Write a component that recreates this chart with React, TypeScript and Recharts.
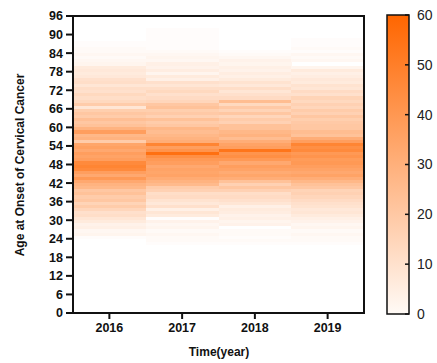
import React from "react";
import { BarChart, Bar, XAxis, YAxis, Cell } from "recharts";

const YEARS = ["2016", "2017", "2018", "2019"];
const AGE_START = 20;
const AGE_COUNT = 96;
const AGE_TICKS = [0, 6, 12, 18, 24, 30, 36, 42, 48, 54, 60, 66, 72, 78, 84, 90, 96];
const SCALE_TICKS = [0, 10, 20, 30, 40, 50, 60];

// cases per age, ages 20..92
const CASES_2016 = [
  0, 0, 0, 0, 1, 4, 3, 6, 5, 8,
  10, 13, 12, 16, 20, 17, 22, 20, 24, 22,
  28, 30, 34, 40, 34, 38, 46, 48, 46, 38,
  36, 38, 34, 37, 35, 20, 30, 28, 38, 30,
  24, 22, 25, 20, 22, 19, 10, 20, 15, 13,
  15, 12, 13, 10, 13, 12, 9, 8, 9, 8,
  4, 3, 2, 3, 2, 2, 1, 1, 0, 0,
  0, 0, 0,
];
const CASES_2017 = [
  0, 0, 1, 2, 2, 3, 2, 4, 3, 5,
  1, 8, 10, 6, 12, 9, 11, 14, 13, 18,
  20, 27, 30, 33, 36, 35, 36, 34, 38, 40,
  44, 56, 42, 38, 48, 32, 30, 28, 26, 28,
  22, 20, 24, 18, 21, 19, 24, 22, 16, 14,
  12, 15, 13, 10, 12, 6, 8, 4, 7, 5,
  6, 3, 4, 3, 2, 1, 1, 1, 1, 1,
  1, 1, 0,
];
const CASES_2018 = [
  0, 0, 1, 2, 1, 2, 2, 0, 5, 4,
  6, 5, 7, 8, 6, 10, 12, 14, 13, 18,
  22, 18, 24, 32, 35, 33, 36, 38, 34, 40,
  44, 42, 54, 38, 36, 32, 26, 30, 28, 24,
  24, 18, 20, 16, 22, 17, 21, 15, 26, 14,
  12, 10, 13, 9, 11, 8, 6, 7, 5, 6,
  4, 5, 3, 2, 1, 0, 0, 0, 0, 0,
  0, 0, 0,
];
const CASES_2019 = [
  0, 0, 1, 2, 2, 3, 2, 4, 3, 5,
  6, 8, 10, 9, 11, 12, 14, 16, 18, 17,
  22, 24, 28, 32, 36, 34, 36, 38, 40, 39,
  42, 40, 46, 44, 48, 38, 32, 24, 26, 22,
  22, 21, 19, 22, 18, 20, 16, 18, 15, 17,
  12, 14, 10, 11, 8, 9, 7, 6, 8, 4,
  0, 3, 2, 3, 1, 2, 1, 1, 1, 0,
  0, 0, 0,
];
const SERIES = [CASES_2016, CASES_2017, CASES_2018, CASES_2019];

const MAX_VALUE = 60;
const HOT = [255, 102, 0];

const colorFor = (v: number) => {
  const t = Math.max(0, Math.min(1, v / MAX_VALUE));
  const c = HOT.map((h) => Math.round(255 + (h - 255) * t));
  return `rgb(${c[0]},${c[1]},${c[2]})`;
};

const valueAt = (yearIdx: number, age: number) =>
  SERIES[yearIdx][age - AGE_START] ?? 0;

const ages = Array.from({ length: AGE_COUNT }, (_, i) => i);

const heatData = YEARS.map((year) => {
  const row: Record<string, string | number> = { year };
  ages.forEach((a) => (row["a" + a] = 1));
  return row;
});

const FONT = "Arial, 'Liberation Sans', sans-serif";
const boldTick = { fontSize: 12.5, fontWeight: 700, fill: "#111", fontFamily: FONT };
const ink = { stroke: "#111", strokeWidth: 2 };

export default function App() {
  return (
    <div
      style={{
        position: "absolute",
        left: 0,
        top: 0,
        width: 437,
        height: 363,
        background: "#fff",
        fontFamily: FONT,
      }}
    >
      <div style={{ position: "absolute", left: 0, top: 0 }}>
        <BarChart
          width={437}
          height={363}
          data={heatData}
          barCategoryGap={0}
          margin={{ top: 16, right: 73, bottom: 20, left: 0 }}
        >
          {ages.map((a) => (
            <Bar key={a} dataKey={"a" + a} stackId="s" isAnimationActive={false}>
              {YEARS.map((y, i) => {
                const v = valueAt(i, a);
                return (
                  <Cell
                    key={y}
                    fill={v > 0 ? colorFor(v) : "none"}
                    shapeRendering="crispEdges"
                  />
                );
              })}
            </Bar>
          ))}
          <XAxis
            dataKey="year"
            height={30}
            tick={boldTick}
            tickSize={6}
            tickMargin={4}
            axisLine={ink}
            tickLine={ink}
          />
          <YAxis
            type="number"
            domain={[0, 96]}
            ticks={AGE_TICKS}
            interval={0}
            width={73}
            tick={boldTick}
            tickSize={7}
            tickMargin={3}
            axisLine={ink}
            tickLine={ink}
          />
        </BarChart>
      </div>

      {/* plot frame */}
      <div
        style={{
          position: "absolute",
          left: 72,
          top: 15,
          width: 289,
          height: 295,
          border: "2px solid #111",
          pointerEvents: "none",
        }}
      />

      <div style={{ position: "absolute", left: 380, top: 0 }}>
        <BarChart
          width={57}
          height={363}
          data={[{ name: "scale", v: MAX_VALUE }]}
          barCategoryGap={0}
          margin={{ top: 15, right: 0, bottom: 49, left: 7 }}
        >
          <defs>
            <linearGradient id="scaleGrad" x1="0" y1="1" x2="0" y2="0">
              <stop offset="0%" stopColor="rgb(255,250,246)" />
              <stop offset="100%" stopColor={colorFor(MAX_VALUE)} />
            </linearGradient>
          </defs>
          <XAxis dataKey="name" hide />
          <Bar
            dataKey="v"
            yAxisId="r"
            fill="url(#scaleGrad)"
            stroke="#111"
            strokeWidth={1.5}
            isAnimationActive={false}
          />
          <YAxis
            yAxisId="r"
            orientation="right"
            type="number"
            domain={[0, MAX_VALUE]}
            ticks={SCALE_TICKS}
            interval={0}
            width={28}
            tick={{ fontSize: 14, fill: "#222", fontFamily: FONT }}
            tickSize={-4}
            tickMargin={12}
            axisLine={false}
            tickLine={{ stroke: "#111", strokeWidth: 1.5 }}
          />
        </BarChart>
      </div>

      <div
        style={{
          position: "absolute",
          left: 20,
          top: 165,
          transform: "translate(-50%, -50%) rotate(-90deg)",
          whiteSpace: "nowrap",
          fontSize: 12,
          fontWeight: 700,
          color: "#111",
        }}
      >
        Age at Onset of Cervical Cancer
      </div>
      <div
        style={{
          position: "absolute",
          left: 219,
          top: 352,
          transform: "translate(-50%, -50%)",
          whiteSpace: "nowrap",
          fontSize: 12,
          fontWeight: 700,
          color: "#111",
        }}
      >
        Time(year)
      </div>
    </div>
  );
}
